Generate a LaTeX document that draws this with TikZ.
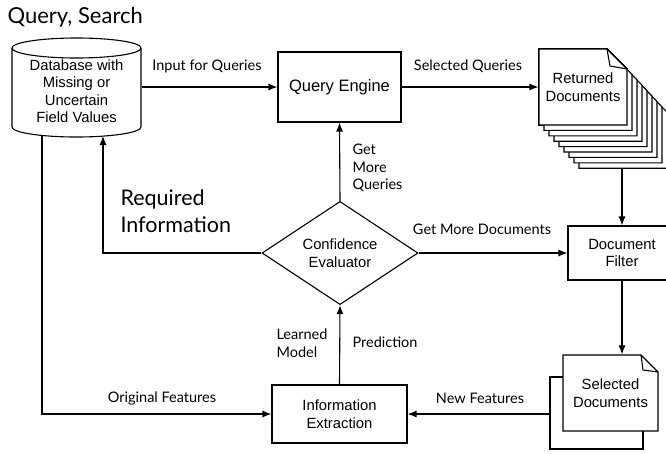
\documentclass[tikz,border=0pt]{standalone}
\usepackage{fontspec}
\setmainfont{Liberation Sans}
\newfontfamily\labelfont{Lato}
\usetikzlibrary{shapes.geometric,arrows.meta}

% one sheet of paper: x, y, width, height, fold
\newcommand{\docpage}[5]{%
  \filldraw[fill=white] (#1,#2) -- ++(#3-#5,0) -- ++(#5,#5) -- ++(0,#4-#5) -- ++(-#3,0) -- cycle;
}

\begin{document}
\begin{tikzpicture}[x=1pt,y=-1pt,line width=1.1pt,>={Latex[length=9pt,width=7pt]}]
\tikzstyle{every node}=[font=\fontsize{14.8}{17.5}\selectfont,align=center];
\tikzstyle{box}=[draw,rectangle,inner sep=0pt];
\tikzstyle{lbl}=[font=\labelfont\fontsize{14.5}{17.5}\selectfont,align=left,inner sep=0pt];
\clip (0,0) rectangle (666,453);

  \node[lbl,anchor=west,font=\labelfont\fontsize{22}{25}\selectfont] (title) at (7,17) {Query, Search};

  % database
  \draw (12,48) -- (12,127) arc[start angle=180,end angle=0,x radius=64.5,y radius=10] -- (141,48);
  \draw (76.5,48) ellipse [x radius=64.5,y radius=10];
  \node[minimum width=129,minimum height=70,inner sep=0pt] (db) at (76.5,91) {Database with\\Missing or\\Uncertain\\Field Values};
  \coordinate (reqend) at (103,136);
  \coordinate (origstart) at (42,135);

  \node[box,minimum width=123,minimum height=70,font=\fontsize{16.5}{20}\selectfont] (qe) at (339.5,87) {Query Engine};

  % returned documents
  \foreach \i in {8,...,1}
    \docpage{539+5*\i}{49+5.4*\i}{88}{76}{20}
  \docpage{539}{49}{88}{76}{20}
  \draw (607,49) -- (610,66) -- (627,69);
  \node[minimum width=88,minimum height=76,inner sep=0pt] (ret) at (583,87) {Returned\\Documents};
  \coordinate (retbot) at (622,168);

  \node[box,minimum width=108,minimum height=54] (df) at (622,253) {Document\\Filter};
  \node[draw,diamond,minimum width=156,minimum height=92,inner sep=0pt] (ce) at (340,253) {Confidence\\Evaluator};
  \node[box,minimum width=135,minimum height=58] (ie) at (339.5,414) {Information\\Extraction};

  % selected documents
  \docpage{550}{377}{93}{72}{0}
  \docpage{563}{355}{95}{76}{17}
  \draw (641,355) -- (643,370) -- (658,372);
  \node[minimum width=95,minimum height=76,inner sep=0pt] (sel) at (610.5,393) {Selected\\Documents};
  \coordinate (selback) at (550,414);

  \draw[->] (db.east |- qe) -- (qe.west);
  \draw[->] (df.south) -- (df.south |- sel.north);
  \foreach \from/\to in {qe.east/ret.west, retbot/df.north, ce.north/qe.south, ce.east/df.west, ie.north/ce.south, selback/ie.east}
    \draw[->] (\from) -- (\to);
  \draw[->] (ce.west) -| (reqend);
  \draw[->] (origstart) |- (ie.west);

  \node[lbl] at (207,66) {Input for Queries};
  \node[lbl] at (468,66) {Selected Queries};
  \node[lbl,anchor=west] at (352,168) {Get\\More\\Queries};
  \node[lbl] at (482,229) {Get More Documents};
  \node[lbl,anchor=west,font=\labelfont\fontsize{21.5}{27}\selectfont] at (120,211) {Required\\Information};
  \node[lbl,anchor=west] at (276,343) {Learned\\Model};
  \node[lbl,anchor=west] at (352,342) {Prediction};
  \node[lbl] at (162,398) {Original Features};
  \node[lbl] at (480,398) {New Features};

\end{tikzpicture}
\end{document}
